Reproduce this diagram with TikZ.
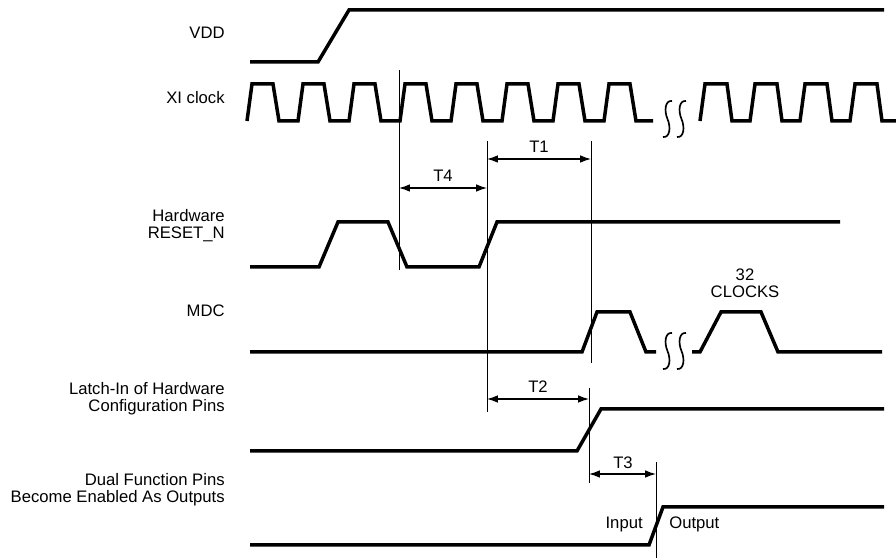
\documentclass[tikz,border=0pt]{standalone}
\usepackage{fontspec}
\setmainfont{Liberation Sans}
\usetikzlibrary{arrows.meta}

\begin{document}
\begin{tikzpicture}[x=0.6pt, y=-0.6pt,
  sig/.style={line width=2.1pt, line join=miter},
  guide/.style={line width=0.6pt},
  arr/.style={{Latex[length=6.5pt,width=4.5pt]}-{Latex[length=6.5pt,width=4.5pt]}, line width=0.7pt},
  brk/.style={line width=1pt},
  lbl/.style={anchor=east, align=right, inner sep=0pt, font=\fontsize{10}{10.3}\selectfont},
  txt/.style={inner sep=0pt, align=center, font=\fontsize{10}{10.3}\selectfont}]
\useasboundingbox (0,0) rectangle (896,558);

% signal names
\node[lbl] (vdd) at (225,33) {VDD};
\node[lbl] (xi) at (225,98) {XI clock};
\node[lbl] (rst) at (225,226) {Hardware\\RESET\_N};
\node[lbl] (mdc) at (225,311) {MDC};
\node[lbl] (latch) at (225,399) {Latch-In of Hardware\\Configuration Pins};
\node[lbl] (dual) at (225,490) {Dual Function Pins\\Become Enabled As Outputs};

% waveforms
\draw[sig] (250,62) -- (318,62) -- (349,10) -- (884,10);
\draw[sig] (247,121) \foreach \i in {1,...,7}{ -- ++(5,-37) -- ++(21,0) -- ++(6,37) -- ++(19,0) }
  -- ++(5,-37) -- ++(21,0) -- ++(6,37) -- ++(17,0);
\draw[sig] (700,121) \foreach \i in {1,...,4}{ -- ++(5,-37) -- ++(22,0) -- ++(5,37) -- ++(18,0) };
\draw[sig] (250,267) -- (319,267) -- (338,222) -- (388,222) -- (407,267) -- (479,267) -- (497,222) -- (840,222);
\draw[sig] (250,352) -- (582,352) -- (597,312) -- (630,312) -- (646,352) -- (656,352);
\draw[sig] (692,352) -- (700,352) -- (721,312) -- (761,312) -- (778,352) -- (882,352);
\draw[sig] (250,451) -- (577,451) -- (601,409) -- (884,409);
\draw[sig] (250,545) -- (649,545) -- (663,507) -- (884,507);

% breaks
\foreach \x/\y in {663/101, 677/101, 663/333, 677/333}
  \draw[brk] (\x+9,\y) .. controls (\x+2,\y-1) and (\x+1,\y+10) .. (\x+4.5,\y+18) .. controls (\x+8,\y+26) and (\x+7,\y+37) .. (\x,\y+36);

% timing references
\coordinate (g1a) at (399,70);  \coordinate (g1b) at (399,270);
\coordinate (g2a) at (487,141); \coordinate (g2b) at (487,412);
\coordinate (g3a) at (591,141); \coordinate (g3b) at (591,363);
\coordinate (g4a) at (589,388); \coordinate (g4b) at (589,483);
\coordinate (g5a) at (656,462); \coordinate (g5b) at (656,558);
\draw[guide] (g1a) -- (g1b);
\draw[guide] (g2a) -- (g2b);
\draw[guide] (g3a) -- (g3b);
\draw[guide] (g4a) -- (g4b);
\draw[guide] (g5a) -- (g5b);

\coordinate (t4a) at (399,188); \coordinate (t4b) at (487,188);
\coordinate (t1a) at (487,159); \coordinate (t1b) at (591,159);
\coordinate (t2a) at (487,399); \coordinate (t2b) at (589,399);
\coordinate (t3a) at (589,474); \coordinate (t3b) at (656,474);
\draw[arr] (t4a) -- (t4b);
\draw[arr] (t1a) -- (t1b);
\draw[arr] (t2a) -- (t2b);
\draw[arr] (t3a) -- (t3b);
\node[txt] (t4) at (443,176) {T4};
\node[txt] (t1) at (539,147) {T1};
\node[txt] (t2) at (538,387) {T2};
\node[txt] (t3) at (623,463) {T3};

\node[txt] (clk) at (745,283) {32\\CLOCKS};
\node[txt, anchor=east] (in) at (643,524) {Input};
\node[txt, anchor=west] (out) at (669,524) {Output};
\end{tikzpicture}
\end{document}
